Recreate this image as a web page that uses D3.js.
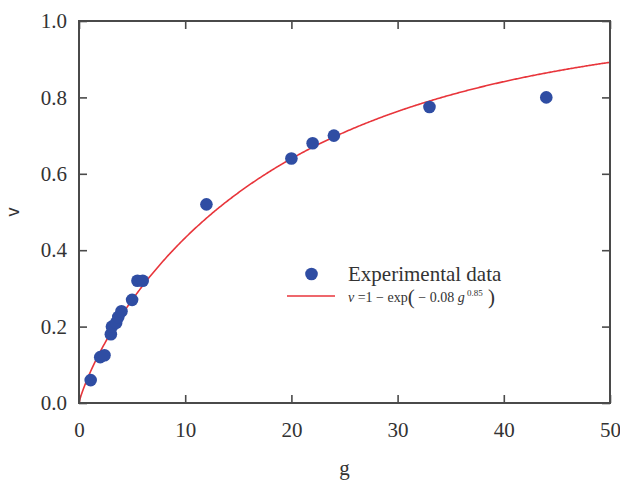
<!DOCTYPE html>
<html><head><meta charset="utf-8">
<script src="https://cdn.jsdelivr.net/npm/d3@7"></script>
<style>body{margin:0;background:#fff}svg{display:block}</style>
</head><body>
<script>
const gValues = [1.1, 2.0, 2.4, 3.0, 3.1, 3.5, 3.7, 4.0, 5.0, 5.5, 6.0, 12, 20, 22, 24, 33, 44];
const vValues = [0.06, 0.12, 0.125, 0.18, 0.2, 0.21, 0.225, 0.24, 0.27, 0.32, 0.32, 0.52, 0.64, 0.68, 0.70, 0.775, 0.80];
const xTicks = [0, 10, 20, 30, 40, 50];
const yTicks = [0, 0.2, 0.4, 0.6, 0.8, 1.0];
const fitA = 0.08, fitB = 0.85;
const legendLabels = ["Experimental data"];

const W = 620, H = 481;
const m = {l: 79, t: 21, r: 10, b: 78};
const svg = d3.select("body").append("svg").attr("width", W).attr("height", H);
const x = d3.scaleLinear().domain([0, 50]).range([m.l, W - m.r]);
const y = d3.scaleLinear().domain([0, 1]).range([H - m.b, m.t]);
const axisCol = "#4a4a4a", txtCol = "#333";
const font = "'Liberation Serif', 'Times New Roman', serif";

// curve
const curve = d3.range(0, 50.001, 0.1).map(g => [g, 1 - Math.exp(-fitA * Math.pow(g, fitB))]);
svg.append("path").datum(curve)
  .attr("d", d3.line().x(d => x(d[0])).y(d => y(d[1])))
  .attr("fill", "none").attr("stroke", "#e8353b").attr("stroke-width", 1.6);

// points
svg.append("g").selectAll("circle").data(gValues.map((g, i) => [g, vValues[i]])).join("circle")
  .attr("cx", d => x(d[0])).attr("cy", d => y(d[1])).attr("r", 6.3)
  .attr("fill", "#2f4da3");

// axes
const tl = 8;
function styleAxis(g) {
  g.select(".domain").remove();
  g.selectAll(".tick line").attr("stroke", axisCol).attr("stroke-width", 1.6);
  g.selectAll(".tick text").attr("fill", txtCol).style("font-family", font).style("font-size", "21px");
}
svg.append("g").attr("transform", `translate(0,${y(0)})`)
  .call(d3.axisBottom(x).tickValues(xTicks).tickFormat(d3.format("d")).tickSizeInner(-tl).tickPadding(19))
  .call(styleAxis);
svg.append("g").attr("transform", `translate(${x(0)},0)`)
  .call(d3.axisLeft(y).tickValues(yTicks).tickFormat(d3.format(".1f")).tickSizeInner(-tl).tickPadding(12))
  .call(styleAxis);
svg.append("g").attr("transform", `translate(0,${y(1)})`)
  .call(d3.axisTop(x).tickValues(xTicks).tickFormat("").tickSizeInner(-tl))
  .call(styleAxis);
svg.append("g").attr("transform", `translate(${x(50)},0)`)
  .call(d3.axisRight(y).tickValues(yTicks).tickFormat("").tickSizeInner(-tl))
  .call(styleAxis);
svg.append("rect").attr("x", x(0)).attr("y", y(1)).attr("width", x(50) - x(0)).attr("height", y(0) - y(1))
  .attr("fill", "none").attr("stroke", axisCol).attr("stroke-width", 2);

// axis titles
svg.append("text").attr("transform", `translate(19,${(y(0)+y(1))/2}) rotate(-90)`)
  .attr("text-anchor", "middle").attr("fill", txtCol)
  .style("font-family", "'Liberation Sans', Arial, sans-serif").style("font-size", "18px").text("v");
svg.append("text").attr("x", (x(0)+x(50))/2).attr("y", 475).attr("text-anchor", "middle").attr("fill", txtCol)
  .style("font-family", font).style("font-size", "21px").text("g");

// legend
const lg = svg.append("g");
lg.append("circle").attr("cx", 311.5).attr("cy", 274).attr("r", 6.3).attr("fill", "#2f4da3");
lg.append("text").attr("x", 348).attr("y", 281).attr("fill", txtCol)
  .style("font-family", font).style("font-size", "21px").text(legendLabels[0]);
lg.append("line").attr("x1", 287).attr("x2", 335).attr("y1", 296).attr("y2", 296)
  .attr("stroke", "#e8353b").attr("stroke-width", 1.6);
const ft = lg.append("text").attr("x", 348).attr("y", 302).attr("fill", txtCol)
  .style("font-family", font).style("font-size", "14px");
ft.append("tspan").style("font-style", "italic").text("v");
ft.append("tspan").text(" =1 − exp");
ft.append("tspan").style("font-size", "21px").attr("dy", 2).text("(");
ft.append("tspan").attr("dy", -2).text("  − " + fitA + " ");
ft.append("tspan").style("font-style", "italic").text("g");
ft.append("tspan").style("font-size", "9px").attr("dy", -6).text(" " + fitB);
ft.append("tspan").style("font-size", "21px").attr("dy", 8).text("  )");
</script>
</body></html>
